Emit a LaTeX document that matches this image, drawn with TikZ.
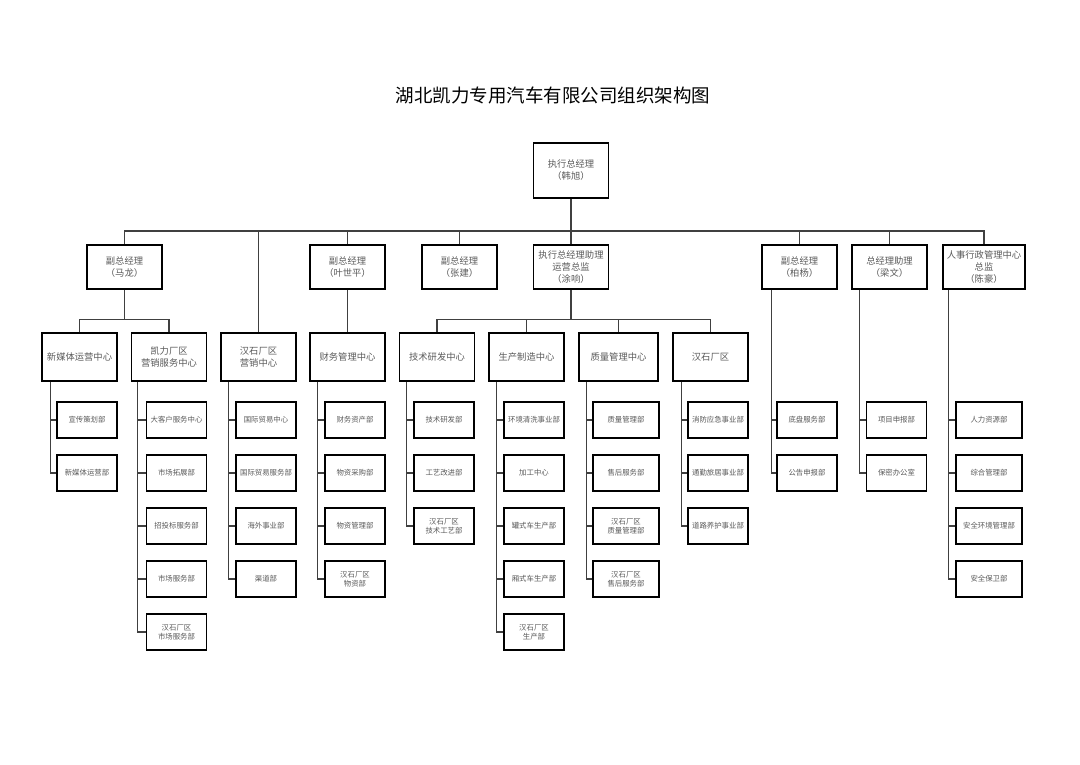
\documentclass[tikz,border=0pt]{standalone}
\usepackage{fontspec}
\setmainfont{Noto Sans CJK SC}
\usetikzlibrary{positioning}

\tikzset{
	box/.style={draw=black,line width=1.6pt,minimum width=75pt,minimum height=44pt,align=center,inner sep=1pt,text=black!65,font=\fontsize{9.3}{12}\selectfont},
	leaf/.style={draw=black,line width=1.5pt,minimum width=60pt,minimum height=36pt,align=center,inner sep=1pt,text=black!65,font=\fontsize{7.4}{9}\selectfont},
	link/.style={draw=black!75,line width=1.2pt}
}

\begin{document}
\begin{tikzpicture}[x=1pt,y=-1pt]
\useasboundingbox (0,0) rectangle (1080,764);
\node (title) at (553,95) {\fontsize{18.5}{22}\selectfont 湖北凯力专用汽车有限公司组织架构图};
% top
\node (ceo) [box,minimum height=55pt] at (571,170.5) {执行总经理\\（韩旭）};
% second row
\node (mal) [box] at (124.5,267) {副总经理\\（马龙）};
\node (yesp) [box] at (347.5,267) {副总经理\\（叶世平）};
\node (zhj) [box] at (459.5,267) {副总经理\\（张建）};
\node (tux) [box] at (571,267) {执行总经理助理\\运营总监\\（涂响）};
\node (boy) [box] at (799.5,267) {副总经理\\（柏杨）};
\node (liw) [box] at (889.5,267) {总经理助理\\（梁文）};
\node (chh) [box,minimum width=82pt] at (984,267) {人事行政管理中心\\总监\\（陈豪）};
% third row
\node (xmt) [box,minimum height=48pt] at (79.5,357) {新媒体运营中心};
\node (klyx) [box,minimum height=48pt] at (169,357) {凯力厂区\\营销服务中心};
\node (hsyx) [box,minimum height=48pt] at (258.5,357) {汉石厂区\\营销中心};
\node (cwgl) [box,minimum height=48pt] at (347.5,357) {财务管理中心};
\node (jsyf) [box,minimum height=48pt] at (437,357) {技术研发中心};
\node (scza) [box,minimum height=48pt] at (526.5,357) {生产制造中心};
\node (zlgl) [box,minimum height=48pt,minimum width=79pt] at (618.5,357) {质量管理中心};
\node (hscq) [box,minimum height=48pt] at (710.5,357) {汉石厂区};
% main bus
\coordinate (bus) at (571,231);
\draw[link] (ceo.south) -- (bus);
\foreach \n in {mal,yesp,zhj,tux,boy,liw,chh,hsyx}
	\draw[link] (\n.north) |- (bus);
% sub buses
\draw[link] (mal.south) -- ++(0,30) coordinate (mb);
\foreach \n in {xmt,klyx}
	\draw[link] (\n.north) |- (mb);
\draw[link] (yesp) -- (cwgl);
\draw[link] (tux.south) -- ++(0,30) coordinate (tb);
\foreach \n in {jsyf,scza,zlgl,hscq}
	\draw[link] (\n.north) |- (tb);
% leaves
\foreach \t [count=\i] in {宣传策划部,新媒体运营部}{
	\node (xmt\i) [leaf] at (87,367+53*\i) {\t};
	\draw[link] (xmt.south west) ++(9,0) |- (xmt\i.west);
}
\foreach \t [count=\i] in {大客户服务中心,市场拓展部,招投标服务部,市场服务部,{汉石厂区\\市场服务部}}{
	\node (klyx\i) [leaf] at (176.5,367+53*\i) {\t};
	\draw[link] (klyx.south west) ++(7,0) |- (klyx\i.west);
}
\foreach \t [count=\i] in {国际贸易中心,国际贸易服务部,海外事业部,渠道部}{
	\node (hsyx\i) [leaf] at (266,367+53*\i) {\t};
	\draw[link] (hsyx.south west) ++(8,0) |- (hsyx\i.west);
}
\foreach \t [count=\i] in {财务资产部,物资采购部,物资管理部,{汉石厂区\\物资部}}{
	\node (cwgl\i) [leaf] at (355,367+53*\i) {\t};
	\draw[link] (cwgl.south west) ++(8,0) |- (cwgl\i.west);
}
\foreach \t [count=\i] in {技术研发部,工艺改进部,{汉石厂区\\技术工艺部}}{
	\node (jsyf\i) [leaf] at (444,367+53*\i) {\t};
	\draw[link] (jsyf.south west) ++(8,0) |- (jsyf\i.west);
}
\foreach \t [count=\i] in {环境清洗事业部,加工中心,罐式车生产部,厢式车生产部,{汉石厂区\\生产部}}{
	\node (scza\i) [leaf] at (534,367+53*\i) {\t};
	\draw[link] (scza.south west) ++(8,0) |- (scza\i.west);
}
\foreach \t [count=\i] in {质量管理部,售后服务部,{汉石厂区\\质量管理部},{汉石厂区\\售后服务部}}{
	\node (zlgl\i) [leaf,minimum width=66pt] at (626,367+53*\i) {\t};
	\draw[link] (zlgl.south west) ++(8,0) |- (zlgl\i.west);
}
\foreach \t [count=\i] in {消防应急事业部,通勤旅居事业部,道路养护事业部}{
	\node (hscq\i) [leaf] at (718,367+53*\i) {\t};
	\draw[link] (hscq.south west) ++(9,0) |- (hscq\i.west);
}
\foreach \t [count=\i] in {底盘服务部,公告申报部}{
	\node (boy\i) [leaf] at (807,367+53*\i) {\t};
	\draw[link] (boy.south west) ++(10,0) |- (boy\i.west);
}
\foreach \t [count=\i] in {项目申报部,保密办公室}{
	\node (liw\i) [leaf] at (896.5,367+53*\i) {\t};
	\draw[link] (liw.south west) ++(8,0) |- (liw\i.west);
}
\foreach \t [count=\i] in {人力资源部,综合管理部,安全环境管理部,安全保卫部}{
	\node (chh\i) [leaf,minimum width=66pt] at (989,367+53*\i) {\t};
	\draw[link] (chh.south west) ++(6,0) |- (chh\i.west);
}
\end{tikzpicture}
\end{document}
